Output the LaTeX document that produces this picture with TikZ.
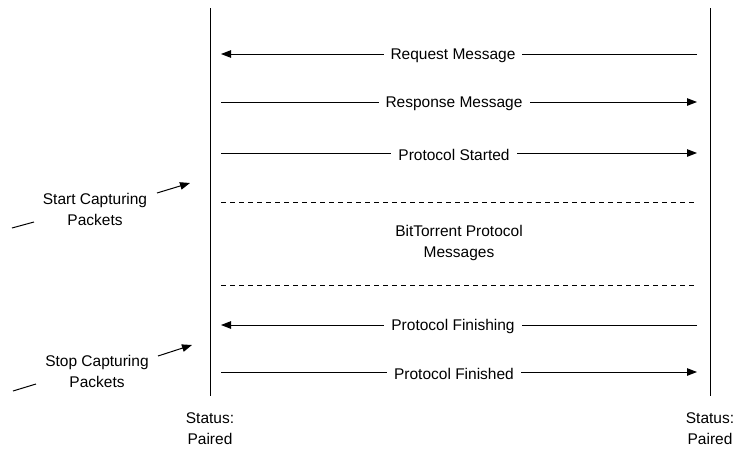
\documentclass[tikz,border=0pt]{standalone}
\usepackage{fontspec}
\setmainfont{Liberation Sans}
\usetikzlibrary{arrows.meta}
\begin{document}
\begin{tikzpicture}[x=1pt,y=-1pt,
  lbl/.style={font=\fontsize{15.5}{20}\selectfont, fill=white, inner xsep=7pt, inner ysep=4pt, align=center, yshift=-1.5pt},
  ann/.style={font=\fontsize{15.5}{21}\selectfont, align=center, inner sep=0pt},
  msg/.style={line width=1pt, -{Triangle[length=10pt,width=7.5pt]}},
  life/.style={line width=0.9pt},
  sep/.style={dashed, dash pattern=on 5pt off 4pt, line width=0.7pt}]
\useasboundingbox (0,0) rectangle (734,450);
% lifelines
\coordinate (lt) at (210,8); \coordinate (lb) at (210,396);
\coordinate (rt) at (710,8); \coordinate (rb) at (710,396);
\draw[life] (lt) -- (lb);
\draw[life] (rt) -- (rb);
% message endpoints
\foreach \n/\y in {a/54,b/102,c/153,d/325,e/372}{
  \coordinate (L\n) at (221,\y);
  \coordinate (R\n) at (697,\y);
}
\draw[msg] (Ra) -- (La) node[lbl, midway, xshift=-6pt] (ma) {Request Message};
\draw[msg] (Lb) -- (Rb) node[lbl, midway, xshift=-5pt] (mb) {Response Message};
\draw[msg] (Lc) -- (Rc) node[lbl, midway, xshift=-5pt] (mc) {Protocol Started};
\draw[msg] (Rd) -- (Ld) node[lbl, midway, xshift=-6pt] (md) {Protocol Finishing};
\draw[msg] (Le) -- (Re) node[lbl, midway, xshift=-5pt] (me) {Protocol Finished};
% dashed separators
\coordinate (d1l) at (221,202); \coordinate (d1r) at (697,202);
\coordinate (d2l) at (221,285); \coordinate (d2r) at (697,285);
\draw[sep] (d1l) -- (d1r);
\draw[sep] (d2l) -- (d2r);
\node[ann] (bt) at (459,243) {BitTorrent Protocol\\Messages};
% status
\node[ann] (sl) at (210,429) {Status:\\Paired};
\node[ann] (sr) at (710,429) {Status:\\Paired};
% annotations
\node[ann] (start) at (95,209) {Start Capturing\\Packets};
\coordinate (s1) at (157,193); \coordinate (s2) at (190,183);
\draw[msg] (s1) -- (s2);
\coordinate (s3) at (12,228); \coordinate (s4) at (34,222);
\draw[line width=1pt] (s3) -- (s4);
\node[ann] (stop) at (97,371) {Stop Capturing\\Packets};
\coordinate (t1) at (158,356); \coordinate (t2) at (192,345);
\draw[msg] (t1) -- (t2);
\coordinate (t3) at (13,391); \coordinate (t4) at (36,384);
\draw[line width=1pt] (t3) -- (t4);
\end{tikzpicture}
\end{document}
